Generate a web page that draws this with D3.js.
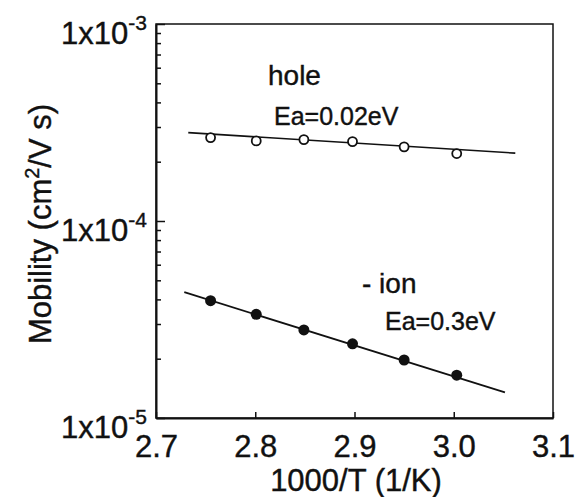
<!DOCTYPE html>
<html>
<head>
<meta charset="utf-8">
<script src="https://cdnjs.cloudflare.com/ajax/libs/d3/7.8.5/d3.min.js"></script>
<style>
  body { margin: 0; background: #fff; }
  text { font-family: "Liberation Sans", Arial, sans-serif; fill: #111; stroke: #111; stroke-width: 0.4px; }
</style>
</head>
<body>
<div id="chart"></div>
<script>
// data
var invT = [2.755, 2.801, 2.849, 2.898, 2.950, 3.003];
var holeMobility = [2.65e-4, 2.55e-4, 2.59e-4, 2.53e-4, 2.38e-4, 2.20e-4];
var ionMobility = [3.94e-5, 3.36e-5, 2.80e-5, 2.38e-5, 1.97e-5, 1.65e-5];
// fitted lines (two end points each)
var holeFitX = [2.7325, 3.062];
var holeFitY = [2.81e-4, 2.21e-4];
var ionFitX = [2.7285, 3.0516];
var ionFitY = [4.35e-5, 1.35e-5];
var xTicks = [2.7, 2.8, 2.9, 3.0, 3.1];
var xTickLabels = ["2.7", "2.8", "2.9", "3.0", "3.1"];
var yDecades = [1e-5, 1e-4, 1e-3];
var yDecadeExp = ["-5", "-4", "-3"];

var width = 578, height = 497;
var margin = {top: 24, right: 25, bottom: 79, left: 156};
var w = width - margin.left - margin.right;
var h = height - margin.top - margin.bottom;

var svg = d3.select('#chart').append('svg')
    .attr('width', width)
    .attr('height', height);

var g = svg.append('g')
    .attr('transform', 'translate(' + margin.left + ',' + margin.top + ')');

var x = d3.scaleLinear().domain([2.7, 3.1]).range([0, w]);
var y = d3.scaleLog().domain([1e-5, 1e-3]).range([h, 0]);

// frame
g.append('rect')
    .attr('width', w).attr('height', h)
    .attr('fill', 'none')
    .attr('stroke', '#111')
    .attr('stroke-width', 1.5);

// minor y ticks
var minors = [];
[1e-5, 1e-4].forEach(function(d) {
  for (var k = 2; k <= 9; k++) minors.push(d * k);
});

g.append('g')
    .call(d3.axisLeft(y).tickValues(minors).tickSize(-5).tickFormat(''))
    .call(function(a) { a.select('.domain').remove(); })
    .selectAll('line').attr('stroke', '#111').attr('stroke-width', 1.5);

// major y ticks
var yAxis = g.append('g')
    .call(d3.axisLeft(y).tickValues(yDecades).tickSizeInner(-9).tickSizeOuter(0).tickFormat(''));
yAxis.select('.domain').attr('stroke', '#111').attr('stroke-width', 2);
yAxis.selectAll('line').attr('stroke', '#111').attr('stroke-width', 1.5);

// y tick labels 1x10^n
yDecades.forEach(function(d, i) {
  var t = g.append('text')
      .attr('x', -9)
      .attr('y', y(d) + 20)
      .attr('text-anchor', 'end')
      .style('font-size', '31px');
  t.append('tspan').text('1x10');
  t.append('tspan').attr('dy', -14).style('font-size', '21px').text(yDecadeExp[i]);
});

// x axis
var xAxis = g.append('g')
    .attr('transform', 'translate(0,' + h + ')')
    .call(d3.axisBottom(x).tickValues(xTicks).tickSizeInner(-6).tickSizeOuter(0).tickPadding(17)
      .tickFormat(function(d, i) { return xTickLabels[i]; }));
xAxis.select('.domain').attr('stroke', '#111').attr('stroke-width', 2);
xAxis.selectAll('line').attr('stroke', '#111').attr('stroke-width', 1.5);
xAxis.selectAll('text')
    .style('font-family', '"Liberation Sans", Arial, sans-serif')
    .style('font-size', '31px')
    .attr('fill', '#111');

// axis titles
svg.append('text')
    .attr('x', 356)
    .attr('y', 491)
    .attr('text-anchor', 'middle')
    .style('font-size', '31px')
    .text('1000/T (1/K)');

var yt = svg.append('text')
    .attr('transform', 'translate(51,' + 224 + ') rotate(-90)')
    .attr('text-anchor', 'middle')
    .style('font-size', '31px');
yt.append('tspan').text('Mobility (cm');
yt.append('tspan').attr('dy', -12).style('font-size', '20px').text('2');
yt.append('tspan').attr('dy', 12).text('/V s)');

// fit lines
var line = d3.line()
    .x(function(d) { return x(d[0]); })
    .y(function(d) { return y(d[1]); });

g.append('path')
    .datum(d3.zip(holeFitX, holeFitY))
    .attr('d', line)
    .attr('fill', 'none')
    .attr('stroke', '#111')
    .attr('stroke-width', 1.6);

g.append('path')
    .datum(d3.zip(ionFitX, ionFitY))
    .attr('d', line)
    .attr('fill', 'none')
    .attr('stroke', '#111')
    .attr('stroke-width', 1.8);

// points
g.selectAll('.hole')
    .data(d3.zip(invT, holeMobility))
    .enter().append('circle')
    .attr('class', 'hole')
    .attr('cx', function(d) { return x(d[0]); })
    .attr('cy', function(d) { return y(d[1]); })
    .attr('r', 4.5)
    .attr('fill', '#fff')
    .attr('stroke', '#111')
    .attr('stroke-width', 1.8);

g.selectAll('.ion')
    .data(d3.zip(invT, ionMobility))
    .enter().append('circle')
    .attr('class', 'ion')
    .attr('cx', function(d) { return x(d[0]); })
    .attr('cy', function(d) { return y(d[1]); })
    .attr('r', 5.5)
    .attr('fill', '#111');

// annotations
svg.append('text').attr('x', 268).attr('y', 85).style('font-size', '28px').text('hole');
svg.append('text').attr('x', 274).attr('y', 125).style('font-size', '25px').text('Ea=0.02eV');
svg.append('text').attr('x', 362).attr('y', 293).style('font-size', '28px').text('- ion');
svg.append('text').attr('x', 385).attr('y', 330).style('font-size', '25px').text('Ea=0.3eV');
</script>
</body>
</html>
